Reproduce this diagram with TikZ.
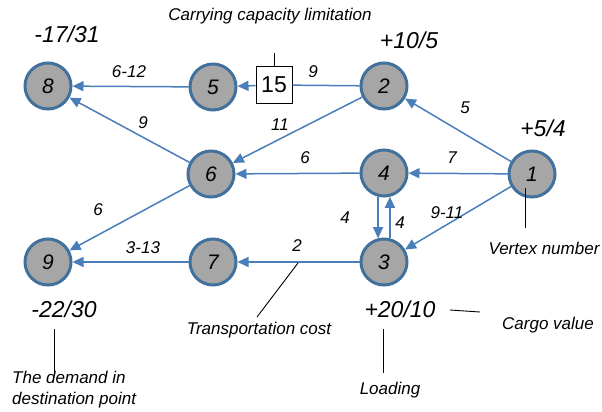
\documentclass[tikz,border=0pt]{standalone}
\usepackage{fontspec}
\setmainfont{Liberation Sans}
\usetikzlibrary{arrows.meta}
\definecolor{edgeblue}{RGB}{74,126,187}
\definecolor{rimblue}{RGB}{65,113,156}
\definecolor{vertexgray}{RGB}{166,166,166}

\begin{document}
\begin{tikzpicture}[x=1pt,y=-1pt,
  vertex/.style={circle,draw=rimblue,fill=vertexgray,line width=3pt,minimum size=46pt,inner sep=0pt,font=\fontsize{21}{24}\selectfont\itshape},
  route/.style={draw=edgeblue,line width=1.5pt,-{Triangle[length=11pt,width=10pt]}},
  cost/.style={font=\fontsize{17}{20}\selectfont\itshape,inner sep=0pt},
  balance/.style={font=\fontsize{23}{26}\selectfont\itshape,inner sep=0pt},
  remark/.style={font=\fontsize{17}{21}\selectfont\itshape,inner sep=0pt,align=left},
  pointer/.style={draw=black,line width=0.9pt}]

\useasboundingbox (0,0) rectangle (602,412);

% vertices
\node[vertex] (vone)   at (532,174) {1};
\node[vertex] (vtwo)   at (384,86)  {2};
\node[vertex] (vthree) at (384,262) {3};
\node[vertex] (vfour)  at (384,173) {4};
\node[vertex] (vfive)  at (213,87)  {5};
\node[vertex] (vsix)   at (211,174) {6};
\node[vertex] (vseven) at (213,262) {7};
\node[vertex] (veight) at (48,86)   {8};
\node[vertex] (vnine)  at (48,262)  {9};

\node[draw,line width=1pt,fill=white,minimum width=36pt,minimum height=37pt,inner sep=0pt,
  font=\fontsize{23}{26}\selectfont] (capbox) at (274,85) {15};

% routes
\draw[route] (vone) -- (vtwo);
\draw[route] (vone) -- (vfour);
\draw[route] (vone) -- (vthree);
\draw[draw=edgeblue,line width=1.5pt] (vtwo) -- (capbox);
\draw[route] (capbox) -- (vfive);
\draw[route] (vtwo) -- (vsix);
\draw[route] (vfive) -- (veight);
\draw[route] (vsix) -- (veight);
\draw[route] (vfour) -- (vsix);
\draw[route] (vfour.-104) -- (vthree.104);
\draw[route] (vthree.76) -- (vfour.-76);
\draw[route] (vsix) -- (vnine);
\draw[route] (vthree) -- (vseven);
\draw[route] (vseven) -- (vnine);

% costs
\node[cost] (ctwelve) at (129,72)  {6-12};
\node[cost] (cnine)   at (313,72)  {9};
\node[cost] (csixe)   at (143,123) {9};
\node[cost] (celeven) at (280,125) {11};
\node[cost] (cfive)   at (465,108) {5};
\node[cost] (csix)    at (305,158) {6};
\node[cost] (cseven)  at (452,158) {7};
\node[cost] (cdown)   at (345,218) {4};
\node[cost] (cup)     at (400,223) {4};
\node[cost] (conethree) at (447,213) {9-11};
\node[cost] (csixnine) at (98,210) {6};
\node[cost] (cthirteen) at (143,248) {3-13};
\node[cost] (cthreeseven) at (297,246) {2};

% balances
\node[balance] (beight) at (67,34)   {-17/31};
\node[balance] (btwo)   at (409,40)  {+10/5};
\node[balance] (bone)   at (543,128) {+5/4};
\node[balance] (bnine)  at (64,309)  {-22/30};
\node[balance] (bthree) at (400,309) {+20/10};

% remarks
\node[remark] (capnote)  at (270,16)  {Carrying capacity limitation};
\node[remark] (vtxnote)  at (544,248) {Vertex number};
\node[remark] (costnote) at (259,330) {Transportation cost};
\node[remark] (cargonote) at (548,325) {Cargo value};
\node[remark] (loadnote) at (390,390) {Loading};
\node[remark,anchor=north west] (demandnote) at (12,371) {The demand in\\destination point};

\coordinate (vtxTop) at (525,188);
\coordinate (vtxEnd) at (525,228);
\coordinate (costTip) at (298,263);
\coordinate (costEnd) at (257,317);
\coordinate (cargoA) at (450,310);
\coordinate (cargoB) at (480,312);
\coordinate (loadTop) at (383,329);
\coordinate (loadEnd) at (383,373);
\coordinate (demandTop) at (54,329);
\coordinate (demandEnd) at (54,373);

\draw[pointer] (capbox.north) -- ++(0,-13);
\draw[pointer] (vtxTop) -- (vtxEnd);
\draw[pointer] (costTip) -- (costEnd);
\draw[pointer] (cargoA) -- (cargoB);
\draw[pointer] (loadTop) -- (loadEnd);
\draw[pointer] (demandTop) -- (demandEnd);
\end{tikzpicture}
\end{document}
